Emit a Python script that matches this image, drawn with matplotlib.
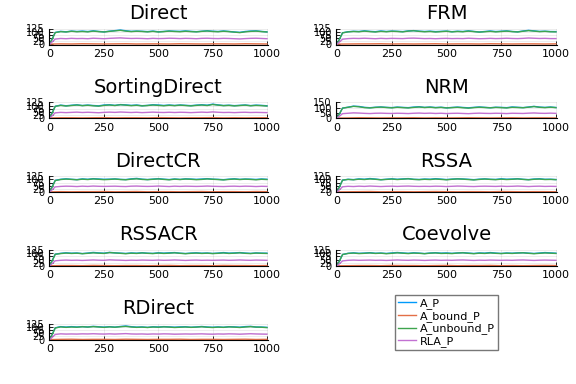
import numpy as np
import matplotlib
matplotlib.use("Agg")
import matplotlib.pyplot as plt

# time grids used when reading the series off the picture
t_fine = np.arange(0, 1001, 25)
t_coarse = np.arange(0, 1001, 50)

methods = ["Direct", "FRM", "SortingDirect", "NRM", "DirectCR", "RSSA",
           "RSSACR", "Coevolve", "RDirect"]
series_names = ["A_P", "A_bound_P", "A_unbound_P", "RLA_P"]
colors = ["#009AFA", "#E36F47", "#3EA44E", "#C271D2"]

a_unbound = {
    "Direct": [0, 92, 100, 97, 103, 99, 101, 98, 104, 100, 97, 102, 106, 110, 104, 100, 103, 101, 98, 102, 97,
               100, 104, 101, 99, 103, 100, 98, 102, 105, 101, 99, 103, 100, 96, 92, 98, 102, 104, 100, 97],
    "FRM": [0, 90, 98, 101, 99, 104, 100, 97, 102, 99, 103, 101, 98, 104, 107, 102, 99, 101, 97, 100, 103,
            98, 101, 99, 104, 100, 96, 99, 102, 98, 101, 104, 100, 97, 103, 108, 104, 100, 102, 99, 98],
    "SortingDirect": [0, 93, 101, 96, 100, 104, 99, 102, 98, 95, 101, 104, 100, 106, 103, 99, 102, 97, 100, 104, 101,
                      98, 102, 99, 103, 100, 97, 101, 104, 100, 108, 103, 99, 101, 97, 100, 103, 98, 101, 99, 96],
    "NRM": [0, 95, 103, 112, 108, 100, 97, 102, 105, 101, 98, 103, 100, 97, 102, 106, 101, 104, 99, 102, 97,
            100, 103, 99, 95, 100, 104, 101, 98, 102, 100, 97, 103, 101, 99, 104, 110, 103, 100, 104, 100],
    "DirectCR": [0, 91, 99, 103, 100, 97, 102, 99, 104, 101, 98, 100, 103, 99, 97, 102, 105, 100, 98, 101, 104,
                 100, 97, 102, 99, 103, 101, 98, 100, 104, 101, 99, 96, 100, 103, 99, 102, 100, 97, 101, 99],
    "RSSA": [0, 94, 100, 97, 102, 99, 104, 101, 97, 100, 103, 99, 102, 105, 100, 98, 101, 99, 103, 100, 97,
             101, 104, 102, 99, 96, 100, 103, 100, 98, 102, 99, 101, 104, 100, 97, 101, 103, 99, 100, 98],
    "RSSACR": [0, 92, 98, 102, 99, 101, 97, 100, 104, 101, 99, 106, 103, 100, 97, 101, 99, 103, 100, 98, 102,
               99, 101, 104, 100, 97, 100, 102, 99, 101, 98, 100, 103, 99, 101, 104, 100, 98, 102, 100, 99],
    "Coevolve": [0, 90, 99, 102, 98, 100, 103, 99, 101, 97, 100, 104, 101, 98, 102, 100, 97, 101, 103, 99, 100,
                 98, 102, 104, 100, 97, 101, 99, 103, 100, 98, 101, 99, 102, 104, 100, 97, 100, 103, 101, 99],
    "RDirect": [0, 93, 102, 98, 101, 99, 103, 100, 104, 101, 98, 102, 99, 103, 106, 101, 98, 100, 97, 101, 99,
                102, 100, 97, 99, 101, 98, 100, 103, 99, 97, 100, 98, 102, 100, 97, 101, 104, 100, 99, 96],
}

rla = {
    "Direct": [0, 40, 45, 43, 46, 44, 45, 43, 47, 45, 43, 46, 48, 50, 47, 45, 46, 45, 43, 46, 44,
               45, 47, 46, 44, 46, 45, 43, 46, 47, 45, 44, 46, 45, 43, 41, 44, 46, 47, 45, 43],
    "FRM": [0, 39, 44, 46, 45, 47, 45, 43, 46, 44, 46, 45, 44, 47, 48, 46, 44, 45, 43, 45, 46,
            44, 45, 44, 47, 45, 43, 44, 46, 44, 45, 47, 45, 44, 46, 49, 47, 45, 46, 44, 44],
    "SortingDirect": [0, 41, 45, 43, 45, 47, 44, 46, 44, 42, 45, 47, 45, 48, 46, 44, 46, 43, 45, 47, 45,
                      44, 46, 44, 46, 45, 43, 45, 47, 45, 49, 46, 44, 45, 43, 45, 46, 44, 45, 44, 43],
    "NRM": [0, 42, 46, 50, 48, 45, 43, 46, 47, 45, 44, 46, 45, 43, 46, 48, 45, 47, 44, 46, 43,
            45, 46, 44, 42, 45, 47, 45, 44, 46, 45, 43, 46, 45, 44, 47, 49, 46, 45, 47, 45],
    "DirectCR": [0, 40, 44, 46, 45, 43, 46, 44, 47, 45, 44, 45, 46, 44, 43, 46, 47, 45, 44, 45, 47,
                 45, 43, 46, 44, 46, 45, 44, 45, 47, 45, 44, 43, 45, 46, 44, 46, 45, 43, 45, 44],
    "RSSA": [0, 41, 45, 43, 46, 44, 47, 45, 43, 45, 46, 44, 46, 47, 45, 44, 45, 44, 46, 45, 43,
             45, 47, 46, 44, 43, 45, 46, 45, 44, 46, 44, 45, 47, 45, 43, 45, 46, 44, 45, 44],
    "RSSACR": [0, 40, 44, 46, 44, 45, 43, 45, 47, 45, 44, 48, 46, 45, 43, 45, 44, 46, 45, 44, 46,
               44, 45, 47, 45, 43, 45, 46, 44, 45, 44, 45, 46, 44, 45, 47, 45, 44, 46, 45, 44],
    "Coevolve": [0, 39, 44, 46, 44, 45, 46, 44, 45, 43, 45, 47, 45, 44, 46, 45, 43, 45, 46, 44, 45,
                 44, 46, 47, 45, 43, 45, 44, 46, 45, 44, 45, 44, 46, 47, 45, 43, 45, 46, 45, 44],
    "RDirect": [0, 41, 46, 44, 45, 44, 46, 45, 47, 45, 44, 46, 44, 46, 48, 45, 44, 45, 43, 45, 44,
                46, 45, 43, 44, 45, 44, 45, 46, 44, 43, 45, 44, 46, 45, 43, 45, 47, 45, 44, 43],
}

a_bound = {
    "Direct": [0, 2, 1, 3, 2, 1, 2, 3, 1, 2, 2, 1, 3, 2, 1, 2, 2, 1, 3, 2, 1],
    "FRM": [0, 1, 2, 2, 3, 1, 2, 1, 2, 3, 1, 2, 2, 1, 3, 2, 1, 2, 2, 1, 2],
    "SortingDirect": [0, 2, 2, 1, 2, 3, 1, 2, 2, 1, 3, 2, 1, 2, 2, 3, 1, 2, 1, 2, 2],
    "NRM": [0, 1, 3, 2, 1, 2, 2, 3, 1, 2, 1, 2, 3, 2, 1, 2, 3, 1, 2, 2, 1],
    "DirectCR": [0, 2, 1, 2, 2, 3, 1, 2, 3, 1, 2, 2, 1, 2, 3, 1, 2, 2, 1, 3, 2],
    "RSSA": [0, 1, 2, 3, 1, 2, 2, 1, 2, 3, 2, 1, 2, 2, 1, 3, 2, 1, 2, 2, 1],
    "RSSACR": [0, 2, 2, 1, 3, 2, 1, 2, 2, 1, 2, 3, 1, 2, 2, 1, 3, 2, 2, 1, 2],
    "Coevolve": [0, 1, 2, 2, 1, 3, 2, 2, 1, 2, 3, 1, 2, 2, 3, 1, 2, 1, 2, 3, 2],
    "RDirect": [0, 2, 3, 1, 2, 2, 1, 3, 2, 1, 2, 2, 3, 1, 2, 2, 1, 2, 3, 1, 2],
}

fig = plt.figure(figsize=(5.76, 3.84), dpi=100)
W, H = 576, 384
col_x = [(48.7, 268.0), (336.0, 557.0)]
row_bottom = [44.5, 118.4, 192.3, 266.2, 340.0]
ax_h = 16.0

for i, name in enumerate(methods):
    r, c = divmod(i, 2)
    x0, x1 = col_x[c]
    yb = row_bottom[r]
    ax = fig.add_axes([x0 / W, 1 - yb / H, (x1 - x0) / W, ax_h / H])
    unb = np.array(a_unbound[name], dtype=float)
    bnd = np.interp(t_fine, t_coarse, a_bound[name])
    total = unb + bnd
    ax.plot(t_fine, total, color=colors[0], lw=1.0)
    ax.plot(t_coarse, a_bound[name], color=colors[1], lw=1.0)
    ax.plot(t_fine, unb, color=colors[2], lw=1.0)
    ax.plot(t_fine, rla[name], color=colors[3], lw=1.0)
    top = total.max()
    ax.set_xlim(-5, 1005)
    ax.set_ylim(-top * 0.03, top * 1.03)
    ax.set_xticks([0, 250, 500, 750, 1000])
    if name == "NRM":
        ax.set_yticks([0, 50, 100, 150])
    else:
        ax.set_yticks([0, 25, 50, 75, 100, 125])
    ax.tick_params(direction="in", length=3, width=0.6, labelsize=8, pad=3)
    ax.tick_params(axis="y", labelsize=7)
    ax.grid(True, color="black", alpha=0.1, lw=0.5)
    for s in ("top", "right"):
        ax.spines[s].set_visible(False)
    for s in ("left", "bottom"):
        ax.spines[s].set_linewidth(0.8)
    ax.set_title(name, fontsize=14, pad=7)

# legend occupies the last grid slot
handles = [plt.Line2D([], [], color=col, lw=1.0) for col in colors]
fig.legend(handles, series_names, loc="upper left",
           bbox_to_anchor=(395 / W, 1 - 295 / H), fontsize=8,
           frameon=True, fancybox=False, edgecolor="#555555",
           handlelength=1.6, handletextpad=0.3, borderpad=0.3,
           labelspacing=0.15, borderaxespad=0)

fig.savefig("out.png", dpi=100)
